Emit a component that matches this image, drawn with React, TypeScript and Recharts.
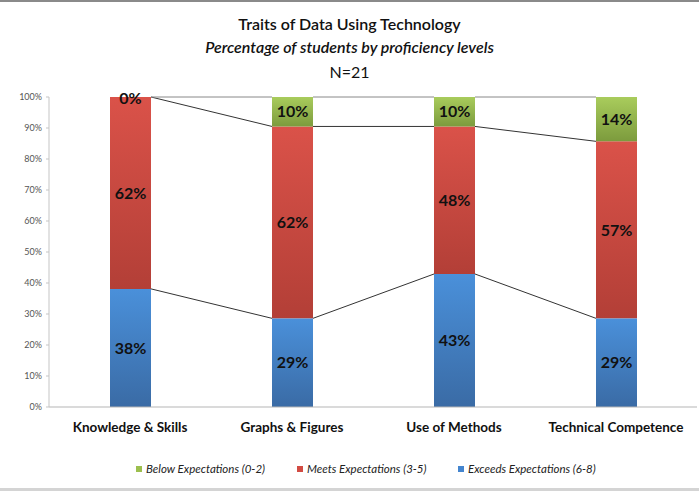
import React from 'react';
import {BarChart, Bar, XAxis, YAxis, LabelList} from 'recharts';

const categories = ['Knowledge & Skills', 'Graphs & Figures', 'Use of Methods', 'Technical Competence'];
const exceeds = [38.1, 28.6, 42.9, 28.6];
const meets = [61.9, 61.9, 47.6, 57.1];
const below = [0, 9.5, 9.5, 14.3];
const yTicks = [0, 10, 20, 30, 40, 50, 60, 70, 80, 90, 100];

const legendItems = [
    {name: 'Below Expectations (0-2)', color: '#9CBF4E'},
    {name: 'Meets Expectations (3-5)', color: '#D24B43'},
    {name: 'Exceeds Expectations (6-8)', color: '#4485CF'},
];

const data = categories.map((c, i) => ({
    name: c,
    exceeds: exceeds[i],
    meets: meets[i],
    below: below[i],
}));

const FONT = 'Lato, "Open Sans", sans-serif';

const pct = (v: any) => `${Math.round(Number(v))}%`;

const labelStyle = {fontSize: 16, fontWeight: 'bold' as const, fill: '#111', fontFamily: FONT};

// edges of the blue bars, so each one can join itself to the one before (series lines)
const edges: {right: number; tops: number[]}[] = [];

const ExceedsShape = (props: any) => {
    const {x, y, width, height, payload, index, fill} = props;
    const base = y + height;
    const per = height / payload.exceeds;
    const cums = [payload.exceeds, payload.exceeds + payload.meets, payload.exceeds + payload.meets + payload.below];
    const tops = cums.map((c) => base - c * per);
    edges[index] = {right: x + width, tops};
    const prev = index > 0 ? edges[index - 1] : null;
    return (
        <g>
            <rect x={x} y={y} width={width} height={height} fill={fill} />
            {prev && tops.map((t, k) => (
                <line key={k} x1={prev.right} y1={prev.tops[k]} x2={x} y2={t}
                      stroke={k === 2 ? '#888' : '#333'} strokeWidth={1} />
            ))}
        </g>
    );
};

// a zero "below" segment gets no bar, so its label sits on top of the red bar
const ZeroBelowLabel = (props: any) => {
    const {viewBox, value} = props;
    if (Number(value) !== 0 || !viewBox) return null;
    return (
        <text x={viewBox.x + viewBox.width / 2} y={viewBox.y} dy={7} textAnchor="middle" style={labelStyle}>
            {pct(value)}
        </text>
    );
};

export default function App() {
    return (
        <div style={{position: 'absolute', left: 0, top: 0, width: 699, height: 491, background: '#fff', fontFamily: FONT}}>
            <div style={{position: 'absolute', left: 0, top: 0, width: 699, height: 2, background: '#8a8a8a'}} />
            <div style={{position: 'absolute', left: 0, top: 488, width: 699, height: 3, background: '#d4d4d4'}} />
            <div style={{position: 'absolute', left: 0, top: 12, width: 699, textAlign: 'center', color: '#111'}}>
                <div style={{fontSize: 16, fontWeight: 600, lineHeight: '23px'}}>Traits of Data Using Technology</div>
                <div style={{fontSize: 16, fontWeight: 600, fontStyle: 'italic', lineHeight: '24px'}}>Percentage of students by proficiency levels</div>
                <div style={{fontSize: 16, lineHeight: '25px'}}>N=21</div>
            </div>
            <BarChart width={699} height={491} data={data}
                      margin={{top: 97, right: 2, left: 0, bottom: 54}}
                      style={{position: 'absolute', left: 0, top: 0}}>
                <defs>
                    <linearGradient id="gBlue" x1="0" y1="0" x2="0" y2="1">
                        <stop offset="0%" stopColor="#4A90DA" />
                        <stop offset="100%" stopColor="#3A6BA5" />
                    </linearGradient>
                    <linearGradient id="gRed" x1="0" y1="0" x2="0" y2="1">
                        <stop offset="0%" stopColor="#DA5249" />
                        <stop offset="100%" stopColor="#B33F37" />
                    </linearGradient>
                    <linearGradient id="gGreen" x1="0" y1="0" x2="0" y2="1">
                        <stop offset="0%" stopColor="#A9CC5C" />
                        <stop offset="100%" stopColor="#7C9B3D" />
                    </linearGradient>
                </defs>
                <XAxis dataKey="name" height={30} tickLine={false} tickMargin={9}
                       axisLine={{stroke: '#b5b5b5'}}
                       tick={{fontSize: 13.5, fontWeight: 'bold', fill: '#111', fontFamily: FONT}} />
                <YAxis domain={[0, 100]} ticks={yTicks} width={49} tickFormatter={(v) => `${v}%`}
                       tickSize={3} tickMargin={4} axisLine={{stroke: '#c5c5c5'}} tickLine={{stroke: '#c5c5c5'}}
                       tick={{fontSize: 9, fill: '#555', fontFamily: FONT}} />
                <Bar dataKey="exceeds" stackId="a" fill="url(#gBlue)" barSize={41}
                     shape={ExceedsShape} isAnimationActive={false}>
                    <LabelList dataKey="exceeds" position="center" formatter={pct} style={labelStyle} />
                </Bar>
                <Bar dataKey="meets" stackId="a" fill="url(#gRed)" barSize={41} isAnimationActive={false}>
                    <LabelList dataKey="meets" position="center" formatter={pct} style={labelStyle} />
                    <LabelList dataKey="below" content={ZeroBelowLabel} />
                </Bar>
                <Bar dataKey="below" stackId="a" fill="url(#gGreen)" barSize={41} isAnimationActive={false}>
                    <LabelList dataKey="below" position="center" formatter={pct} style={labelStyle} />
                </Bar>
            </BarChart>
            <div style={{position: 'absolute', left: 136, top: 462, display: 'flex'}}>
                {legendItems.map((it) => (
                    <div key={it.name} style={{display: 'flex', alignItems: 'center', width: 161, fontSize: 11.5, fontStyle: 'italic', color: '#222'}}>
                        <span style={{width: 6, height: 6, background: it.color, marginRight: 4, display: 'inline-block'}} />
                        {it.name}
                    </div>
                ))}
            </div>
        </div>
    );
}
